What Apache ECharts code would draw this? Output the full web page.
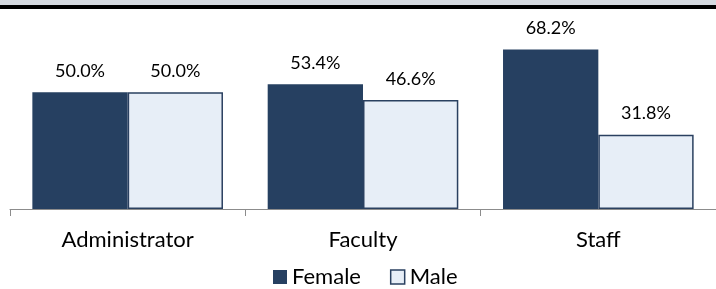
<!DOCTYPE html>
<html>
<head>
<meta charset="utf-8">
<script src="https://cdn.jsdelivr.net/npm/echarts@6/dist/echarts.min.js"></script>
<style>
  html, body { margin: 0; padding: 0; background: #fff; }
  #chart { width: 716px; height: 289px; }
</style>
</head>
<body>
<div id="chart"></div>
<script>
const categories = ['Administrator', 'Faculty', 'Staff']
const female = [50.0, 53.4, 68.2]
const male = [50.0, 46.6, 31.8]

const font = 'Lato, "Open Sans", sans-serif'
const chart = echarts.init(document.getElementById('chart'))

const option = {
  animation: false,
  graphic: [
    // band of the title above, cut off
    { type: 'rect', shape: { x: 0, y: 0, width: 716, height: 6 }, style: { fill: '#D6DAE1' } },
    { type: 'rect', shape: { x: 0, y: 5, width: 716, height: 4 }, style: { fill: '#000' } }
  ],
  legend: {
    bottom: 1,
    left: 273,
    itemWidth: 14,
    itemHeight: 14,
    itemGap: 29,
    icon: 'rect',
    padding: 0,
    textStyle: { fontFamily: font, fontSize: 22, color: '#000' },
    data: [
      { name: 'Female', itemStyle: { color: '#264061' } },
      { name: 'Male', itemStyle: { color: '#E7EEF7', borderColor: '#2A4060', borderWidth: 1.5 } }
    ]
  },
  grid: { left: 10, right: 0, top: 22, bottom: 80 },
  xAxis: {
    type: 'category',
    data: categories,
    axisLine: { lineStyle: { color: '#8C8C8C', width: 1 } },
    axisTick: { show: true, length: 7, lineStyle: { color: '#8C8C8C' } },
    axisLabel: { fontFamily: font, fontSize: 22, color: '#000', margin: 20 }
  },
  yAxis: {
    type: 'value',
    min: 0,
    max: 80,
    show: false,
    splitLine: { show: false }
  },
  series: [
    {
      name: 'Female',
      type: 'bar',
      data: female,
      barGap: '0%',
      barCategoryGap: '19%',
      itemStyle: { color: '#264061' },
      label: {
        show: true,
        position: 'top',
        distance: 12,
        formatter: p => p.value.toFixed(1) + '%',
        fontFamily: font,
        fontSize: 18,
        color: '#000'
      }
    },
    {
      name: 'Male',
      type: 'bar',
      data: male,
      itemStyle: { color: '#E7EEF7', borderColor: '#2A4060', borderWidth: 1.5 },
      label: {
        show: true,
        position: 'top',
        distance: 12,
        formatter: p => p.value.toFixed(1) + '%',
        fontFamily: font,
        fontSize: 18,
        color: '#000'
      }
    }
  ]
}
chart.setOption(option)
</script>
</body>
</html>
